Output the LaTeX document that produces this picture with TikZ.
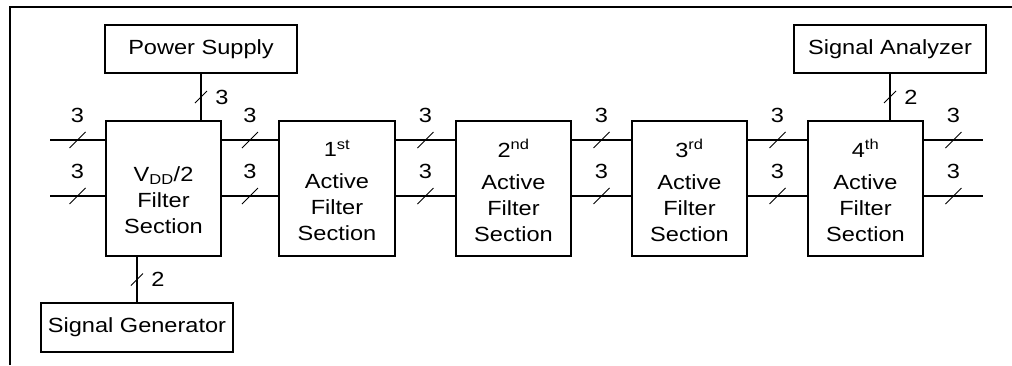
\documentclass[tikz,border=0pt]{standalone}
\usepackage{fontspec}
\setmainfont[FakeStretch=1.15]{Liberation Sans}
\usetikzlibrary{calc}
\begin{document}
\begin{tikzpicture}[x=1pt,y=-1pt,
  every node/.style={font=\fontsize{20.5}{26}\selectfont},
  box/.style={draw, line width=1.8pt, inner sep=0pt},
  blk/.style={box, minimum width=115pt, minimum height=135pt},
  ext/.style={box, minimum width=192pt, minimum height=48pt},
  txt/.style={align=center, inner sep=0pt},
  conn/.style={line width=1.8pt},
  busmark/.style={line width=0.9pt},
  num/.style={inner sep=0pt}]
\useasboundingbox (0,0) rectangle (1012,365);
% frame
\draw[line width=2pt] (10,365) -- (10,6.5) -- (1012,6.5);
% boxes
\node[ext] (ps) at (201,49) {Power Supply};
\node[ext] (sa) at (890,49) {Signal Analyzer};
\node[ext, minimum height=49pt] (sg) at (137,327.5) {Signal Generator};
\node[blk] (vdd) at (163.5,188.5) {};
\node[blk, minimum width=116pt] (b1) at (337,188.5) {};
\node[blk] (b2) at (513.5,188.5) {};
\node[blk] (b3) at (689.5,188.5) {};
\node[blk] (b4) at (865.5,188.5) {};
% box texts
\node[txt] (tvdd) at ([yshift=-12pt]vdd.center) {V\textsubscript{DD}/2\\Filter\\Section};
\node[txt] (t1) at ([yshift=-2pt]b1.center) {1\textsuperscript{st}\\[6pt]Active\\Filter\\Section};
\node[txt] (t2) at ([yshift=-2pt]b2.center) {2\textsuperscript{nd}\\[6pt]Active\\Filter\\Section};
\node[txt] (t3) at ([yshift=-2pt]b3.center) {3\textsuperscript{rd}\\[6pt]Active\\Filter\\Section};
\node[txt] (t4) at ([yshift=-2pt]b4.center) {4\textsuperscript{th}\\[6pt]Active\\Filter\\Section};
% free ends
\coordinate (inA) at (50,140);
\coordinate (inB) at (50,196);
\coordinate (outA) at (983,140);
\coordinate (outB) at (983,196);
% top row (y=140)
\draw[conn] (inA) -- coordinate[pos=0.5] (mA0) (vdd.west |- inA);
\draw[conn] (vdd.east |- inA) -- coordinate[pos=0.5] (mA1) (b1.west |- inA);
\draw[conn] (b1.east |- inA) -- coordinate[pos=0.5] (mA2) (b2.west |- inA);
\draw[conn] (b2.east |- inA) -- coordinate[pos=0.5] (mA3) (b3.west |- inA);
\draw[conn] (b3.east |- inA) -- coordinate[pos=0.5] (mA4) (b4.west |- inA);
\draw[conn] (b4.east |- inA) -- coordinate[pos=0.5] (mA5) (outA);
% bottom row (y=196)
\draw[conn] (inB) -- coordinate[pos=0.5] (mB0) (vdd.west |- inB);
\draw[conn] (vdd.east |- inB) -- coordinate[pos=0.5] (mB1) (b1.west |- inB);
\draw[conn] (b1.east |- inB) -- coordinate[pos=0.5] (mB2) (b2.west |- inB);
\draw[conn] (b2.east |- inB) -- coordinate[pos=0.5] (mB3) (b3.west |- inB);
\draw[conn] (b3.east |- inB) -- coordinate[pos=0.5] (mB4) (b4.west |- inB);
\draw[conn] (b4.east |- inB) -- coordinate[pos=0.5] (mB5) (outB);
\foreach \r in {A,B}{
  \foreach \i in {0,...,5}{
    \draw[busmark] ($(m\r\i)+(-8,8)$) -- ($(m\r\i)+(8,-8)$);
    \node[num] (l\r\i) at ($(m\r\i)+(0,-25)$) {3};
  }
}
% vertical buses
\draw[conn] (ps.south) -- coordinate[pos=0.5] (mps) (ps.south |- vdd.north);
\draw[conn] (sg.north |- vdd.south) -- coordinate[pos=0.5] (msg) (sg.north);
\draw[conn] (sa.south) -- coordinate[pos=0.5] (msa) (sa.south |- b4.north);
\foreach \m/\v in {mps/3, msg/2, msa/2}{
  \draw[busmark] ($(\m)+(-6,6)$) -- ($(\m)+(6,-6)$);
  \node[num] (l\m) at ($(\m)+(21,0)$) {\v};
}
\end{tikzpicture}
\end{document}
